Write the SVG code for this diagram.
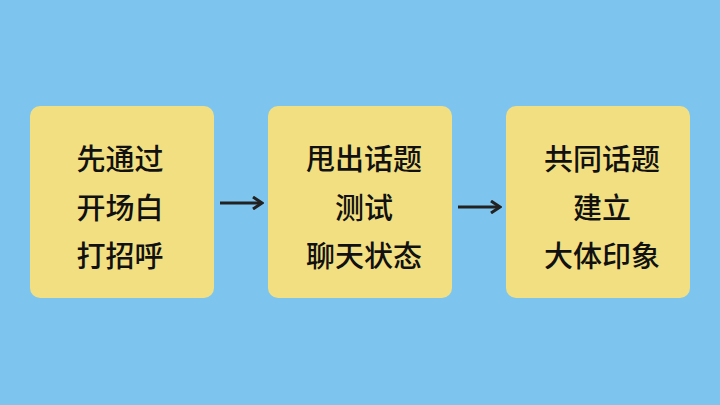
<svg xmlns="http://www.w3.org/2000/svg" width="720" height="405" viewBox="0 0 720 405">
<style>
.box{fill:#f1df82}
.t{font-family:"Noto Sans CJK SC",sans-serif;font-size:29px;font-weight:500;fill:#111;text-anchor:middle}
.c{stroke:#222;stroke-width:3;fill:none}
</style>
<defs><marker id="a" markerWidth="12" markerHeight="14" refX="10" refY="7" orient="auto" markerUnits="userSpaceOnUse"><path d="M1,1 L10,7 L1,13" fill="none" stroke="#222" stroke-width="3"/></marker></defs>
<rect width="720" height="405" fill="#7dc5ee"/>
<g id="n1"><rect class="box" x="30" y="106" width="184" height="192" rx="10"/>
<text class="t" x="120" y="170">先通过</text><text class="t" x="120" y="219">开场白</text><text class="t" x="120" y="267">打招呼</text></g>
<g id="n2"><rect class="box" x="268" y="106" width="184" height="192" rx="10"/>
<text class="t" x="364" y="170">甩出话题</text><text class="t" x="364" y="219">测试</text><text class="t" x="364" y="267">聊天状态</text></g>
<g id="n3"><rect class="box" x="506" y="106" width="184" height="192" rx="10"/>
<text class="t" x="602" y="170">共同话题</text><text class="t" x="602" y="219">建立</text><text class="t" x="602" y="267">大体印象</text></g>
<g id="connectors">
<path class="c" d="M220,203 H262" marker-end="url(#a)"/>
<path class="c" d="M458,207 H500" marker-end="url(#a)"/>
</g>
</svg>
